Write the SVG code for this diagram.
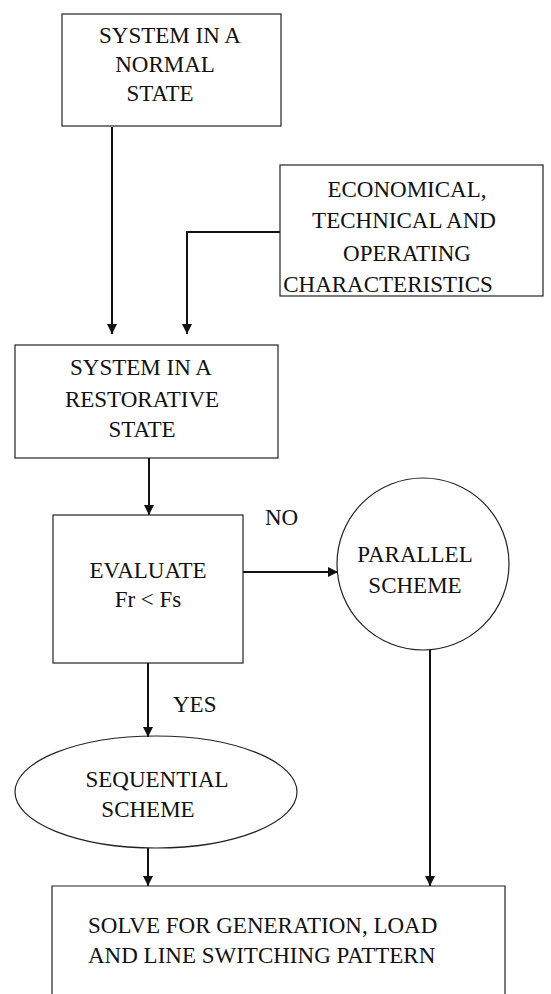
<svg xmlns="http://www.w3.org/2000/svg" width="551" height="994" viewBox="0 0 551 994">
<style>
.box{fill:none;stroke:#222;stroke-width:1.2}
.ln{fill:none;stroke:#111;stroke-width:2}
.t{font-family:"Liberation Serif","Times New Roman",serif;font-size:23px;fill:#111}
.c{text-anchor:middle}
</style>
<defs>
<marker id="ah" viewBox="0 0 10 10" refX="10" refY="5" markerWidth="5" markerHeight="5" orient="auto" markerUnits="strokeWidth">
<path d="M0,0 L10,5 L0,10 z" fill="#111"/>
</marker>
</defs>
<rect width="551" height="994" fill="#fff"/>
<g id="connectors">
<line class="ln" x1="112" y1="127" x2="112" y2="334" marker-end="url(#ah)"/>
<polyline class="ln" points="280,232 187,232 187,334" marker-end="url(#ah)"/>
<line class="ln" x1="149" y1="458" x2="149" y2="515" marker-end="url(#ah)"/>
<line class="ln" x1="243" y1="572" x2="338" y2="572" marker-end="url(#ah)"/>
<line class="ln" x1="148" y1="663" x2="148" y2="737" marker-end="url(#ah)"/>
<line class="ln" x1="148" y1="848" x2="148" y2="886" marker-end="url(#ah)"/>
<line class="ln" x1="430" y1="650" x2="430" y2="886" marker-end="url(#ah)"/>
<text class="t" x="265" y="525">NO</text>
<text class="t" x="173" y="712">YES</text>
</g>
<g id="n1">
<rect class="box" x="62" y="14" width="219" height="112"/>
<text class="t c" x="170" y="43">SYSTEM IN A</text>
<text class="t c" x="165" y="72">NORMAL</text>
<text class="t c" x="160" y="101">STATE</text>
</g>
<g id="n2">
<rect class="box" x="280" y="165" width="263" height="131"/>
<text class="t c" x="407" y="197">ECONOMICAL,</text>
<text class="t c" x="404" y="228">TECHNICAL AND</text>
<text class="t c" x="407" y="261">OPERATING</text>
<text class="t c" x="388" y="292">CHARACTERISTICS</text>
</g>
<g id="n3">
<rect class="box" x="15" y="345" width="263" height="113"/>
<text class="t c" x="141" y="375">SYSTEM IN A</text>
<text class="t c" x="142" y="407">RESTORATIVE</text>
<text class="t c" x="142" y="437">STATE</text>
</g>
<g id="n4">
<rect class="box" x="53" y="515" width="190" height="148"/>
<text class="t c" x="148" y="578">EVALUATE</text>
<text class="t c" x="148" y="607">Fr &lt; Fs</text>
</g>
<g id="n5">
<circle class="box" cx="423" cy="564" r="86"/>
<text class="t c" x="415" y="562">PARALLEL</text>
<text class="t c" x="415" y="593">SCHEME</text>
</g>
<g id="n6">
<ellipse class="box" cx="156" cy="792" rx="141" ry="56"/>
<text class="t c" x="157" y="787">SEQUENTIAL</text>
<text class="t c" x="148" y="817">SCHEME</text>
</g>
<g id="n7">
<path class="box" d="M52,1000 L52,886 L505,886 L505,1000"/>
<text class="t" x="88" y="933">SOLVE FOR GENERATION, LOAD</text>
<text class="t" x="88" y="963">AND LINE SWITCHING PATTERN</text>
</g>
</svg>
